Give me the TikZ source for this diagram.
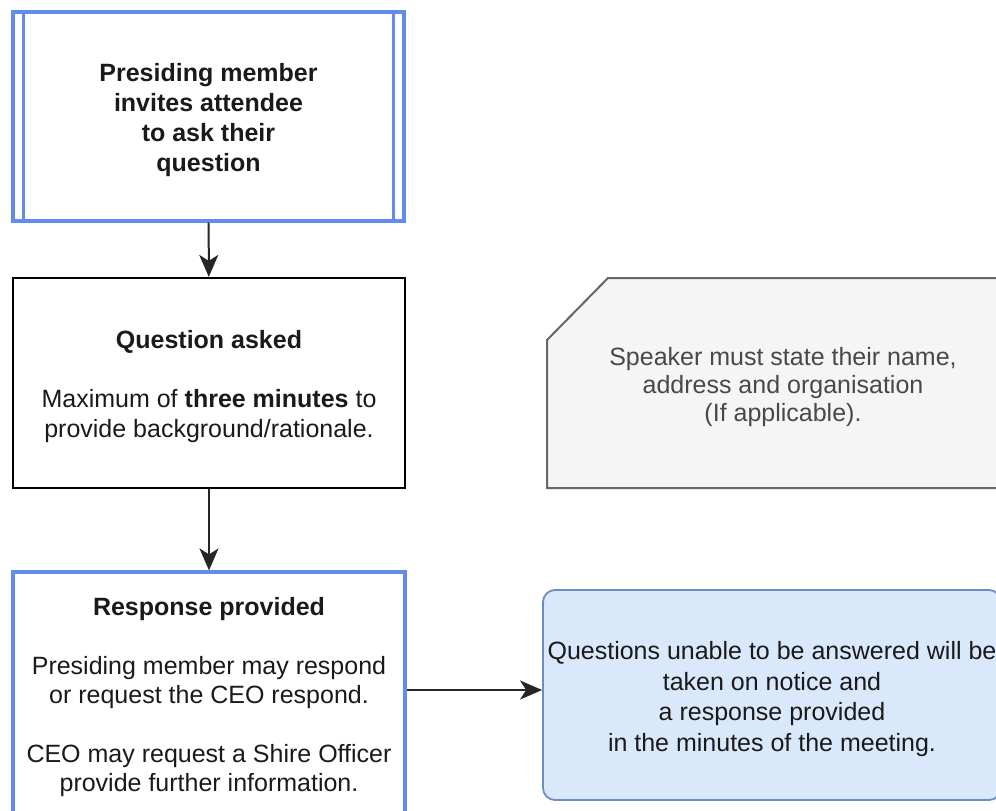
\documentclass[tikz,border=0pt]{standalone}
\usepackage{fontspec}
\setmainfont{Liberation Sans}
\usetikzlibrary{arrows.meta,calc}
\definecolor{bluebd}{RGB}{100,140,238}
\definecolor{ansfill}{HTML}{DAE8FC}
\definecolor{ansbd}{HTML}{6C8EBF}
\definecolor{notefill}{HTML}{F5F5F5}
\definecolor{notebd}{HTML}{666666}
\definecolor{txt}{HTML}{1A1A1A}
\tikzset{
  box/.style={rectangle, minimum width=392pt, inner sep=0pt},
  boxtext/.style={align=center, inner sep=0pt, font=\fontsize{25}{29.5}\selectfont, text=txt},
  arr/.style={draw=black!85, line width=2pt, -{Stealth[length=22pt,width=19pt,inset=6pt]}},
}
\begin{document}
\begin{tikzpicture}[x=1pt,y=-1pt]
\useasboundingbox (0,0) rectangle (996,811);
\clip (0,0) rectangle (996,811);
% top process box
\node[box, draw=bluebd, line width=3.2pt, minimum width=391pt, minimum height=209pt] (top) at (208.5,116.5) {};
\draw[bluebd, line width=3pt] ([xshift=12pt]top.north west) -- ([xshift=12pt]top.south west);
\draw[bluebd, line width=3pt] ([xshift=-12pt]top.north east) -- ([xshift=-12pt]top.south east);
\node[boxtext, font=\fontsize{25}{30}\selectfont\bfseries] (topt) at ([yshift=-3.5pt]top.center)
  {Presiding member\\invites attendee\\to ask their\\question};
% question asked
\node[box, draw=black, line width=2.2pt, minimum height=210pt] (q) at (209,383) {};
\node[boxtext] (qt) at ([yshift=-3.5pt]q.center)
  {\textbf{Question asked}\\[29.5pt]Maximum of \textbf{three minutes} to\\provide background/rationale.};
% response provided
\node[box, draw=bluebd, line width=3.2pt, minimum height=243pt] (resp) at (209,693.5) {};
\node[boxtext] (respt) at ([yshift=-4pt]resp.center)
  {\textbf{Response provided}\\[29pt]Presiding member may respond\\or request the CEO respond.\\[29pt]CEO may request a Shire Officer\\provide further information.};
% note
\draw[fill=notefill, draw=notebd, line width=2pt] (547,340) -- (608,278) -- (1012,278) -- (1012,488) -- (547,488) -- cycle;
\node[boxtext, text=txt!80!white, font=\fontsize{25}{28}\selectfont] (note) at (783,387)
  {Speaker must state their name,\\address and organisation\\(If applicable).};
% answer box
\node[rectangle, rounded corners=12pt, draw=ansbd, fill=ansfill, line width=1.8pt,
  minimum width=458pt, minimum height=210pt, inner sep=0pt] (ans) at (772,695) {};
\node[boxtext, font=\fontsize{25}{30.5}\selectfont] (anst) at ([yshift=-4pt]ans.center)
  {Questions unable to be answered will be\\taken on notice and\\a response provided\\in the minutes of the meeting.};
% arrows
\draw[arr] (top) -- (q);
\draw[arr] (q) -- (resp);
\draw[arr] ([yshift=3.5pt]resp.east) -- ([yshift=3.5pt]resp.east -| ans.west);
\end{tikzpicture}
\end{document}
